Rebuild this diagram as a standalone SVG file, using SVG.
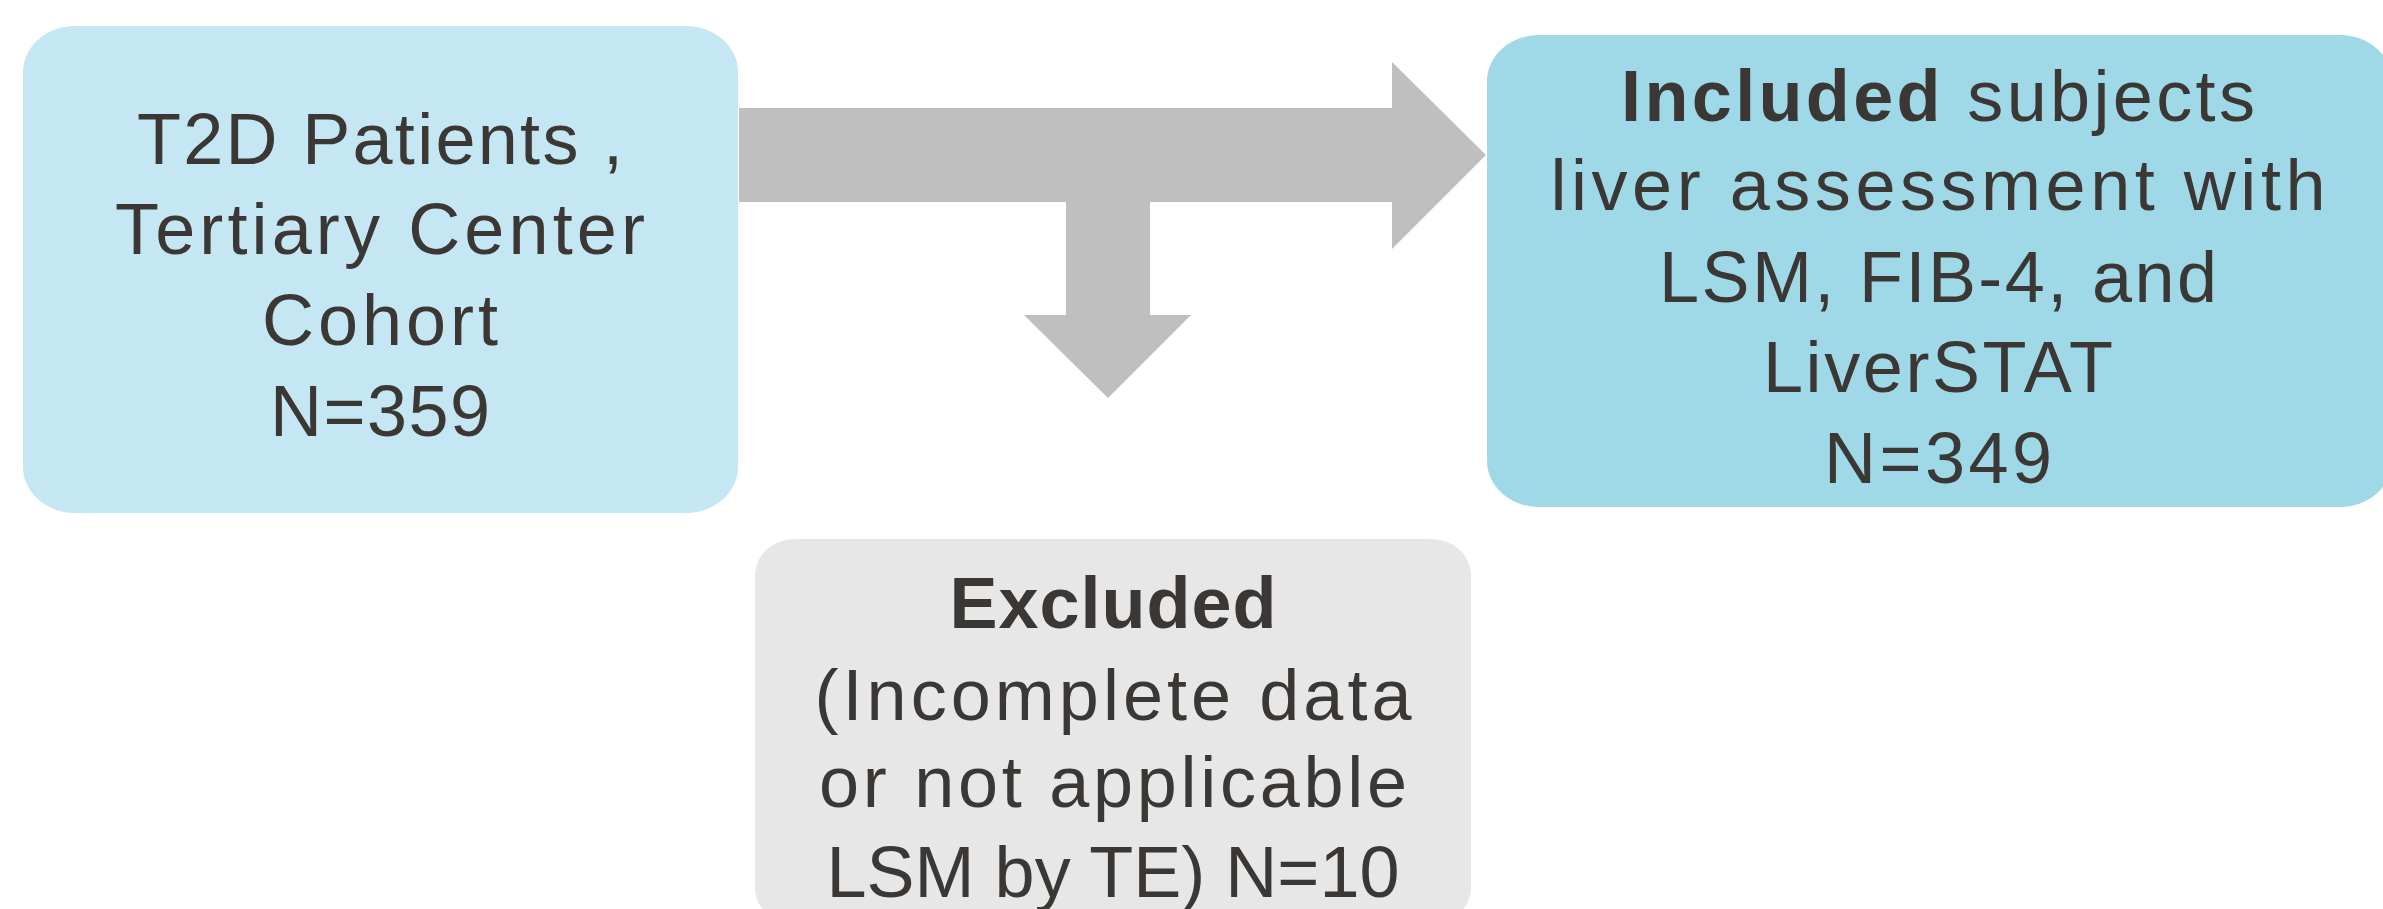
<svg xmlns="http://www.w3.org/2000/svg" width="2383" height="909" viewBox="0 0 2383 909">
<style>
  .t{font-family:"Liberation Sans",Arial,sans-serif;font-size:72px;fill:#3b3734;text-anchor:middle}
  .b{font-weight:bold}
  .conn{fill:#bfbfbf}
</style>
<rect width="2383" height="909" fill="#ffffff"/>
<g id="connectors">
  <path class="conn" d="M739,108 H1392 V62 L1486,155 L1392,249 V202 H1150 V315 H1191 L1108,398 L1024,315 H1066 V202 H739 Z"/>
</g>
<g id="node-cohort">
  <rect x="23" y="26" width="715" height="487" rx="52" ry="46" fill="#c5e7f3"/>
  <text class="t" x="380" y="164" textLength="486" lengthAdjust="spacing">T2D Patients ,</text>
  <text class="t" x="380" y="254" textLength="530" lengthAdjust="spacing">Tertiary Center</text>
  <text class="t" x="380" y="345" textLength="236" lengthAdjust="spacing">Cohort</text>
  <text class="t" x="380" y="436" textLength="220" lengthAdjust="spacing">N=359</text>
</g>
<g id="node-included">
  <rect x="1487" y="35" width="905" height="472" rx="52" ry="46" fill="#9fd9e8"/>
  <text class="t" x="1938" y="121" textLength="634" lengthAdjust="spacing"><tspan class="b">Included</tspan> subjects</text>
  <text class="t" x="1938" y="210" textLength="775" lengthAdjust="spacing">liver assessment with</text>
  <text class="t" x="1938" y="302" textLength="558" lengthAdjust="spacing">LSM, FIB-4, and</text>
  <text class="t" x="1938" y="392" textLength="350" lengthAdjust="spacing">LiverSTAT</text>
  <text class="t" x="1938" y="483" textLength="228" lengthAdjust="spacing">N=349</text>
</g>
<g id="node-excluded">
  <rect x="755" y="539" width="716" height="385" rx="40" ry="36" fill="#e7e7e7"/>
  <text class="t b" x="1113" y="628" textLength="327" lengthAdjust="spacing">Excluded</text>
  <text class="t" x="1113" y="720" textLength="597" lengthAdjust="spacing">(Incomplete data</text>
  <text class="t" x="1113" y="807" textLength="588" lengthAdjust="spacing">or not applicable</text>
  <text class="t" x="1113" y="897" textLength="573" lengthAdjust="spacing">LSM by TE) N=10</text>
</g>
</svg>
